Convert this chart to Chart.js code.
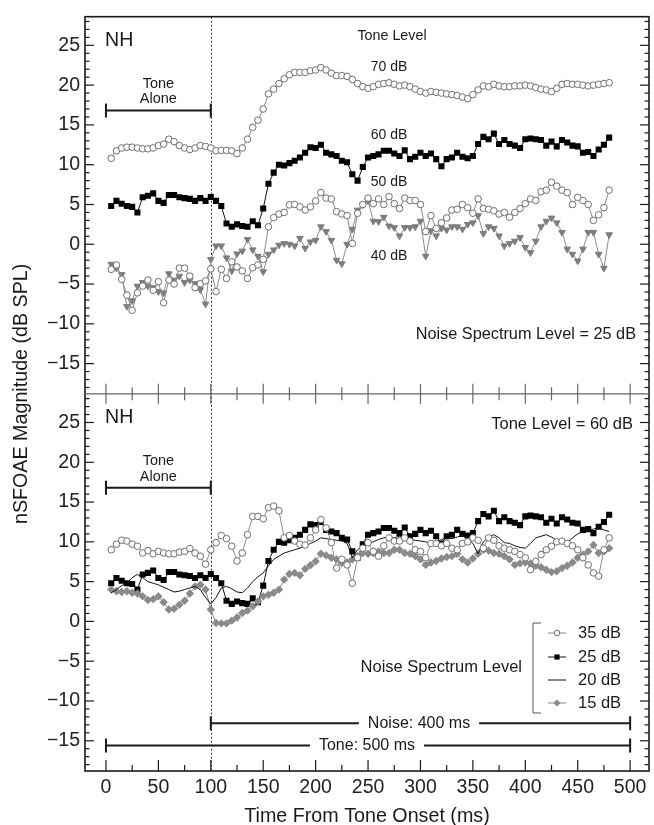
<!DOCTYPE html>
<html><head><meta charset="utf-8">
<script src="https://cdn.jsdelivr.net/npm/chart.js@4.4.0/dist/chart.umd.min.js"></script>
<style>html,body{margin:0;padding:0;background:#fff;}#wrap{width:654px;height:825px;}</style>
</head><body><div id="wrap"><canvas id="c" width="654" height="825"></canvas></div>
<script>
const times = [5,10,15,20,25,30,35,40,45,50,55,60,65,70,75,80,85,90,95,100,
105,110,115,120,125,130,135,140,145,150,155,160,165,170,175,180,185,190,195,200,
205,210,215,220,225,230,235,240,245,250,255,260,265,270,275,280,285,290,295,300,
305,310,315,320,325,330,335,340,345,350,355,360,365,370,375,380,385,390,395,400,
405,410,415,420,425,430,435,440,445,450,455,460,465,470,475,480];

// Top panel: noise spectrum level 25 dB, tone levels
const tone70 = [10.8,11.75,12.1,12.2,12.2,12.1,12.0,12.0,12.1,12.4,
12.6,13.2,12.9,12.4,12.1,11.9,12.1,12.4,12.3,12.1,
11.75,11.8,11.8,11.75,11.4,12.1,13.2,14.7,15.6,17.0,
18.9,19.5,20.2,20.8,21.3,21.6,21.6,21.6,21.8,21.9,
22.2,21.9,21.5,21.2,21.2,21.1,20.7,20.2,19.8,19.6,
19.8,20.1,20.2,20.3,20.1,19.9,20.0,19.8,19.5,19.2,
19.0,19.2,19.1,19.0,18.9,18.8,18.7,18.5,18.3,18.8,
19.4,19.9,19.8,20.1,19.9,19.8,19.8,19.9,19.9,20.0,
19.9,19.7,19.5,19.4,19.2,19.6,20.1,20.2,20.1,20.1,
20.0,19.9,20.0,20.1,20.2,20.3];
const tone60 = [4.8,5.45,5.1,4.8,4.7,4.0,5.9,6.1,6.4,5.45,
5.2,6.2,6.2,5.9,5.8,5.7,5.45,5.8,5.45,5.95,
5.45,4.8,2.6,2.2,2.5,2.3,2.2,2.9,2.4,4.5,
7.6,9.0,10.0,9.9,10.2,10.5,10.9,11.5,12.2,12.1,
12.5,11.5,11.3,11.1,10.5,10.3,8.8,8.0,9.7,10.9,
11.1,11.3,11.75,11.75,11.4,11.1,11.8,10.7,11.0,11.5,
11.1,11.4,10.7,9.8,10.7,10.9,11.5,11.0,10.8,11.1,
12.6,13.5,13.2,13.9,12.6,13.1,12.6,12.4,12.1,13.2,
13.3,13.2,13.1,12.4,12.9,12.3,13.1,12.8,12.4,12.3,
11.5,11.6,11.1,11.9,12.5,13.4];
const tone50 = [-3.15,-2.6,-4.4,-6.4,-8.3,-6.1,-5.25,-4.5,-5.8,-4.7,
-7.35,-4.5,-5.0,-3.0,-3.0,-4.0,-5.45,-4.95,-4.6,-3.1,
-5.95,-3.15,-4.3,-2.2,-2.85,-3.35,-4.3,-2.95,-2.6,-1.9,
2.2,3.35,3.8,4.0,4.95,5.0,4.7,4.3,4.7,5.45,
6.5,5.8,5.7,4.1,3.8,3.6,0.1,3.9,5.0,5.8,
5.1,5.7,5.0,6.0,5.1,4.5,5.8,5.5,5.5,5.0,
1.6,3.6,2.0,2.7,3.3,4.3,4.4,5.0,4.6,3.9,
5.7,4.5,4.4,4.2,3.8,4.0,3.4,4.0,4.5,5.1,
5.7,5.5,6.6,6.8,7.8,7.3,6.8,6.5,5.0,5.9,
5.5,5.0,3.0,3.7,4.6,6.8];
const tone40 = [-2.5,-3.0,-3.8,-7.8,-7.1,-5.25,-4.8,-5.25,-5.45,-5.95,
-6.1,-3.7,-4.5,-4.0,-4.8,-4.5,-4.95,-5.7,-7.5,-1.9,
-0.2,-0.2,-1.7,-3.35,-1.2,-0.85,0.6,-0.7,-1.5,-3.45,
-1.25,-0.7,-0.1,0.1,0.0,-0.2,0.75,-0.5,0.3,0.5,
2.2,1.6,0.5,-2.0,-2.45,0.0,1.9,4.3,4.95,5.45,
2.9,2.85,3.4,2.3,2.1,1.05,2.1,2.1,2.2,2.9,
-1.5,1.7,1.05,2.0,1.8,2.2,2.2,1.9,2.5,2.7,
3.6,1.35,2.2,2.0,1.05,-0.2,0.1,0.4,0.85,-0.4,
-1.05,0.4,2.2,2.9,3.3,2.7,1.5,-0.6,-1.25,-2.1,
-0.6,1.5,1.5,-1.25,-3.0,1.2];

// Bottom panel: tone level 60 dB, noise spectrum levels
const noise35 = [9.0,9.7,10.2,10.1,9.7,9.45,8.6,8.9,8.5,8.8,
8.6,8.5,8.5,8.7,8.8,9.15,8.6,8.2,7.2,9.0,
9.9,10.8,10.4,9.45,7.6,8.6,10.9,13.2,13.2,12.9,
14.3,14.5,13.9,10.5,10.8,10.1,9.7,9.6,10.5,11.5,
12.8,11.75,9.9,6.7,7.8,7.1,4.8,8.0,9.2,9.9,
8.8,8.2,9.5,10.5,10.1,10.1,10.5,10.1,9.0,8.8,
8.0,9.8,9.8,9.5,9.8,9.2,9.0,9.8,10.0,10.5,
10.2,9.2,10.5,10.2,9.5,9.2,9.0,8.8,8.4,8.0,
6.5,7.55,8.4,9.0,9.45,10.0,10.1,9.8,9.5,9.0,
8.0,7.1,6.1,5.7,9.0,10.5];
const noise25 = tone60;
const noise20 = [3.6,4.0,4.5,4.8,5.5,5.9,5.5,5.0,4.8,4.6,
4.3,4.0,3.7,3.8,4.0,4.2,4.4,4.0,3.0,2.2,
3.0,4.2,4.4,4.1,3.7,3.6,4.2,5.0,5.6,6.1,
7.0,7.8,8.2,8.6,8.8,9.0,9.2,9.45,9.8,10.1,
10.5,10.4,10.3,10.2,10.1,9.8,8.0,9.0,9.6,9.7,
10.0,10.3,10.5,10.6,10.5,10.7,10.5,10.3,10.2,10.1,
10.0,9.8,9.9,10.3,10.5,10.4,10.6,10.8,10.4,9.8,
8.5,10.0,10.6,10.9,10.5,9.9,9.8,9.5,9.3,9.2,
9.8,10.5,10.7,10.9,10.6,10.2,10.0,9.9,10.5,11.0,
11.3,11.5,11.6,11.75,11.5,11.3];
const noise15 = [4.0,3.8,3.7,3.8,3.6,3.5,3.15,2.7,2.8,3.15,
2.4,1.5,1.6,2.1,2.6,3.5,4.4,4.6,4.0,1.5,
-0.2,-0.25,-0.25,0.1,0.5,1.05,1.35,1.9,2.5,3.15,
3.35,3.6,4.0,5.25,5.95,6.1,5.8,6.6,7.05,7.55,
8.5,8.3,8.0,7.8,7.35,7.4,7.8,8.2,8.6,8.5,
8.6,8.8,8.6,8.6,9.0,9.0,8.6,8.5,8.2,7.8,
7.1,7.4,7.6,7.9,8.1,8.2,8.5,7.8,7.4,7.9,
8.5,9.0,8.9,8.6,8.5,8.2,7.8,7.1,7.3,7.4,
7.3,7.0,6.8,6.5,6.2,6.3,6.7,7.0,7.4,8.0,
8.4,8.8,9.6,8.6,8.8,9.2];

const xTickLabels = [0,50,100,150,200,250,300,350,400,450,500];
const yTickLabels = [-15,-10,-5,0,5,10,15,20,25];
const legendLabels = ['35 dB','25 dB','20 dB','15 dB'];

const FONT = "'Liberation Sans', Arial, Helvetica, sans-serif";
const GRAY = '#7d7d7d';

function pts(arr){ return times.map((t,i)=>({x:t,y:arr[i]})); }

const sOpen = {borderColor:'#8c8c8c',borderWidth:1,pointStyle:'circle',pointRadius:3.3,pointBackgroundColor:'#fff',pointBorderColor:'#6e6e6e',pointBorderWidth:1};
const sSq = {borderColor:'#111',borderWidth:1,pointStyle:'rect',pointRadius:4.3,pointBackgroundColor:'#000',pointBorderColor:'#000',pointBorderWidth:0};
const sTri = {borderColor:'#8c8c8c',borderWidth:1,pointStyle:'triangle',pointRotation:180,pointRadius:3.8,pointBackgroundColor:GRAY,pointBorderColor:GRAY,pointBorderWidth:1};
const sLine = {borderColor:'#111',borderWidth:1,pointRadius:0};
const sDia = {borderColor:'#8c8c8c',borderWidth:1,pointStyle:'rectRot',pointRadius:4.2,pointBackgroundColor:'#8a8a8a',pointBorderColor:'#8a8a8a',pointBorderWidth:0};

const datasets = [
  Object.assign({label:'70 dB',data:pts(tone70),yAxisID:'yTop'},sOpen),
  Object.assign({label:'60 dB',data:pts(tone60),yAxisID:'yTop'},sSq),
  Object.assign({label:'50 dB',data:pts(tone50),yAxisID:'yTop'},sOpen),
  Object.assign({label:'40 dB',data:pts(tone40),yAxisID:'yTop'},sTri),
  Object.assign({label:legendLabels[0],data:pts(noise35),yAxisID:'yBot'},sOpen),
  Object.assign({label:legendLabels[2],data:pts(noise20),yAxisID:'yBot'},sLine),
  Object.assign({label:legendLabels[3],data:pts(noise15),yAxisID:'yBot'},sDia),
  Object.assign({label:legendLabels[1],data:pts(noise25),yAxisID:'yBot'},sSq)
];

function yScale(weight){
  return {type:'linear',position:'left',stack:'panels',stackWeight:1,weight:weight,
    min:-18.8,max:28.6,bounds:'data',
    grid:{display:false,drawTicks:false},border:{display:false},
    afterBuildTicks:s=>{s.ticks=yTickLabels.map(v=>({value:v}));},
    afterFit:s=>{s.width=85;},
    ticks:{font:{family:FONT,size:19.5},color:'#222',padding:5,autoSkip:false,
      callback:v=>v<0?'\u2212'+Math.abs(v):String(v)}};
}

function line(ctx,x1,y1,x2,y2){ctx.beginPath();ctx.moveTo(x1,y1);ctx.lineTo(x2,y2);ctx.stroke();}
function txt(ctx,s,x,y,size,align){
  ctx.font=size+'px '+FONT;
  ctx.textAlign=align||'center';ctx.textBaseline='middle';ctx.fillStyle='#1a1a1a';
  ctx.fillText(s,x,y);
}
function bracket(ctx,x1,x2,y,cap){line(ctx,x1,y,x2,y);line(ctx,x1,y-cap,x1,y+cap);line(ctx,x2,y-cap,x2,y+cap);}
function gapBracket(ctx,x1,x2,y,cap,label,cx,size){
  ctx.font=size+'px '+FONT;
  const w=ctx.measureText(label).width, g=9;
  line(ctx,x1,y,cx-w/2-g,y);line(ctx,cx+w/2+g,y,x2,y);
  line(ctx,x1,y-cap,x1,y+cap);line(ctx,x2,y-cap,x2,y+cap);
  txt(ctx,label,cx,y,size,'center');
}
function marker(ctx,style,x,y){
  const opt={pointStyle:style.pointStyle,rotation:style.pointRotation||0,radius:style.pointRadius,borderWidth:style.pointBorderWidth};
  ctx.fillStyle=style.pointBackgroundColor;ctx.strokeStyle=style.pointBorderColor;ctx.lineWidth=style.pointBorderWidth||0;
  Chart.helpers.drawPoint(ctx,opt,x,y);
}

const deco = {
  id:'deco',
  beforeDatasetsDraw(chart){
    const {ctx,chartArea:a,scales:{x}}=chart;
    ctx.save();ctx.strokeStyle='#333';ctx.lineWidth=1;ctx.setLineDash([2,2]);
    const px=Math.round(x.getPixelForValue(100))+0.5;
    line(ctx,px,a.top,px,a.bottom);ctx.restore();
  },
  afterDraw(chart){
    const {ctx,chartArea:a,scales}=chart;
    const x=scales.x,yT=scales.yTop,yB=scales.yBot;
    ctx.save();
    ctx.strokeStyle='#1a1a1a';ctx.lineWidth=1.6;
    ctx.strokeRect(a.left,a.top,a.right-a.left,a.bottom-a.top);
    const dv=yT.bottom;
    ctx.strokeStyle='#666';ctx.lineWidth=1.4;line(ctx,a.left,dv,a.right,dv);
    ctx.lineWidth=1.2;
    for(const s of [yT,yB]){
      for(let v=Math.ceil(s.min);v<=Math.floor(s.max);v++){
        const py=s.getPixelForValue(v);const len=(v%5===0)?9:4.5;
        ctx.strokeStyle='#1a1a1a';
        line(ctx,a.left,py,a.left+len,py);line(ctx,a.right,py,a.right-len,py);
      }
    }
    for(let t=0;t<=500;t+=25){
      const px=x.getPixelForValue(t);const major=(t%50===0);
      ctx.strokeStyle='#1a1a1a';line(ctx,px,a.bottom,px,a.bottom-(major?11:6));
      ctx.strokeStyle='#666';line(ctx,px,dv-(major?10:6.5),px,dv+(major?10:6.5));
    }
    // axis titles
    txt(ctx,'Time From Tone Onset (ms)',(a.left+a.right)/2,817,19.7,'center');
    ctx.save();ctx.translate(22,(a.top+a.bottom)/2);ctx.rotate(-Math.PI/2);
    txt(ctx,'nSFOAE Magnitude (dB SPL)',0,0,19.7,'center');ctx.restore();
    // top panel annotations
    const xl=x.getPixelForValue(270);
    txt(ctx,'NH',a.left+20,yT.getPixelForValue(25.6),19.6,'left');
    txt(ctx,'Tone Level',392,yT.getPixelForValue(26.2),14.3,'center');
    txt(ctx,'70 dB',xl,yT.getPixelForValue(22.25),14,'center');
    txt(ctx,'60 dB',xl,yT.getPixelForValue(13.75),14,'center');
    txt(ctx,'50 dB',xl,yT.getPixelForValue(7.75),14,'center');
    txt(ctx,'40 dB',xl,yT.getPixelForValue(-1.5),14,'center');
    txt(ctx,'Noise Spectrum Level = 25 dB',636,yT.getPixelForValue(-11.3),16.3,'right');
    ctx.strokeStyle='#1a1a1a';ctx.lineWidth=2;
    for(const s of [yT,yB]){
      txt(ctx,'Tone',x.getPixelForValue(50),s.getPixelForValue(20.2),14.5,'center');
      txt(ctx,'Alone',x.getPixelForValue(50),s.getPixelForValue(18.2),14.5,'center');
      bracket(ctx,x.getPixelForValue(0),x.getPixelForValue(100),s.getPixelForValue(16.8),7);
    }
    // bottom panel annotations
    txt(ctx,'NH',a.left+20,yB.getPixelForValue(25.6),19.6,'left');
    txt(ctx,'Tone Level = 60 dB',633,yB.getPixelForValue(24.75),16.5,'right');
    ctx.strokeStyle='#1a1a1a';ctx.lineWidth=2;
    gapBracket(ctx,x.getPixelForValue(100),x.getPixelForValue(500),yB.getPixelForValue(-12.8),7,'Noise: 400 ms',419,16);
    gapBracket(ctx,x.getPixelForValue(0),x.getPixelForValue(500),yB.getPixelForValue(-15.6),7,'Tone: 500 ms',367,16);
    // legend
    const lx=533, rows=[633,657,680,703];
    ctx.strokeStyle='#555';ctx.lineWidth=1;
    line(ctx,lx,rows[0]-10,lx,rows[3]+10);line(ctx,lx,rows[0]-10,lx+8,rows[0]-10);line(ctx,lx,rows[3]+10,lx+8,rows[3]+10);
    const styles=[sOpen,sSq,sLine,sDia];
    for(let i=0;i<4;i++){
      const st=styles[i];
      ctx.strokeStyle=st.borderColor;ctx.lineWidth=1;line(ctx,548,rows[i],566,rows[i]);
      if(st.pointRadius){const m=Object.assign({},st,{pointRadius:st.pointRadius*0.85});marker(ctx,m,557,rows[i]);}
      txt(ctx,legendLabels[i],578,rows[i],16.5,'left');
    }
    txt(ctx,'Noise Spectrum Level',522,667,16.5,'right');
    ctx.restore();
  }
};

new Chart(document.getElementById('c'),{
  type:'line',
  data:{datasets},
  options:{
    responsive:false,devicePixelRatio:1,animation:false,
    layout:{padding:{left:0,right:1,top:13,bottom:0}},
    plugins:{legend:{display:false},tooltip:{enabled:false}},
    elements:{line:{tension:0}},
    scales:{
      x:{type:'linear',position:'bottom',min:-20,max:518,bounds:'data',
        grid:{display:false,drawTicks:false},border:{display:false},
        afterBuildTicks:s=>{s.ticks=xTickLabels.map(v=>({value:v}));},
        afterFit:s=>{s.height=54;},
        ticks:{font:{family:FONT,size:19.5},color:'#222',padding:5,maxRotation:0,autoSkip:false}},
      yBot:yScale(1),
      yTop:yScale(2)
    }
  },
  plugins:[deco]
});
</script></body></html>
